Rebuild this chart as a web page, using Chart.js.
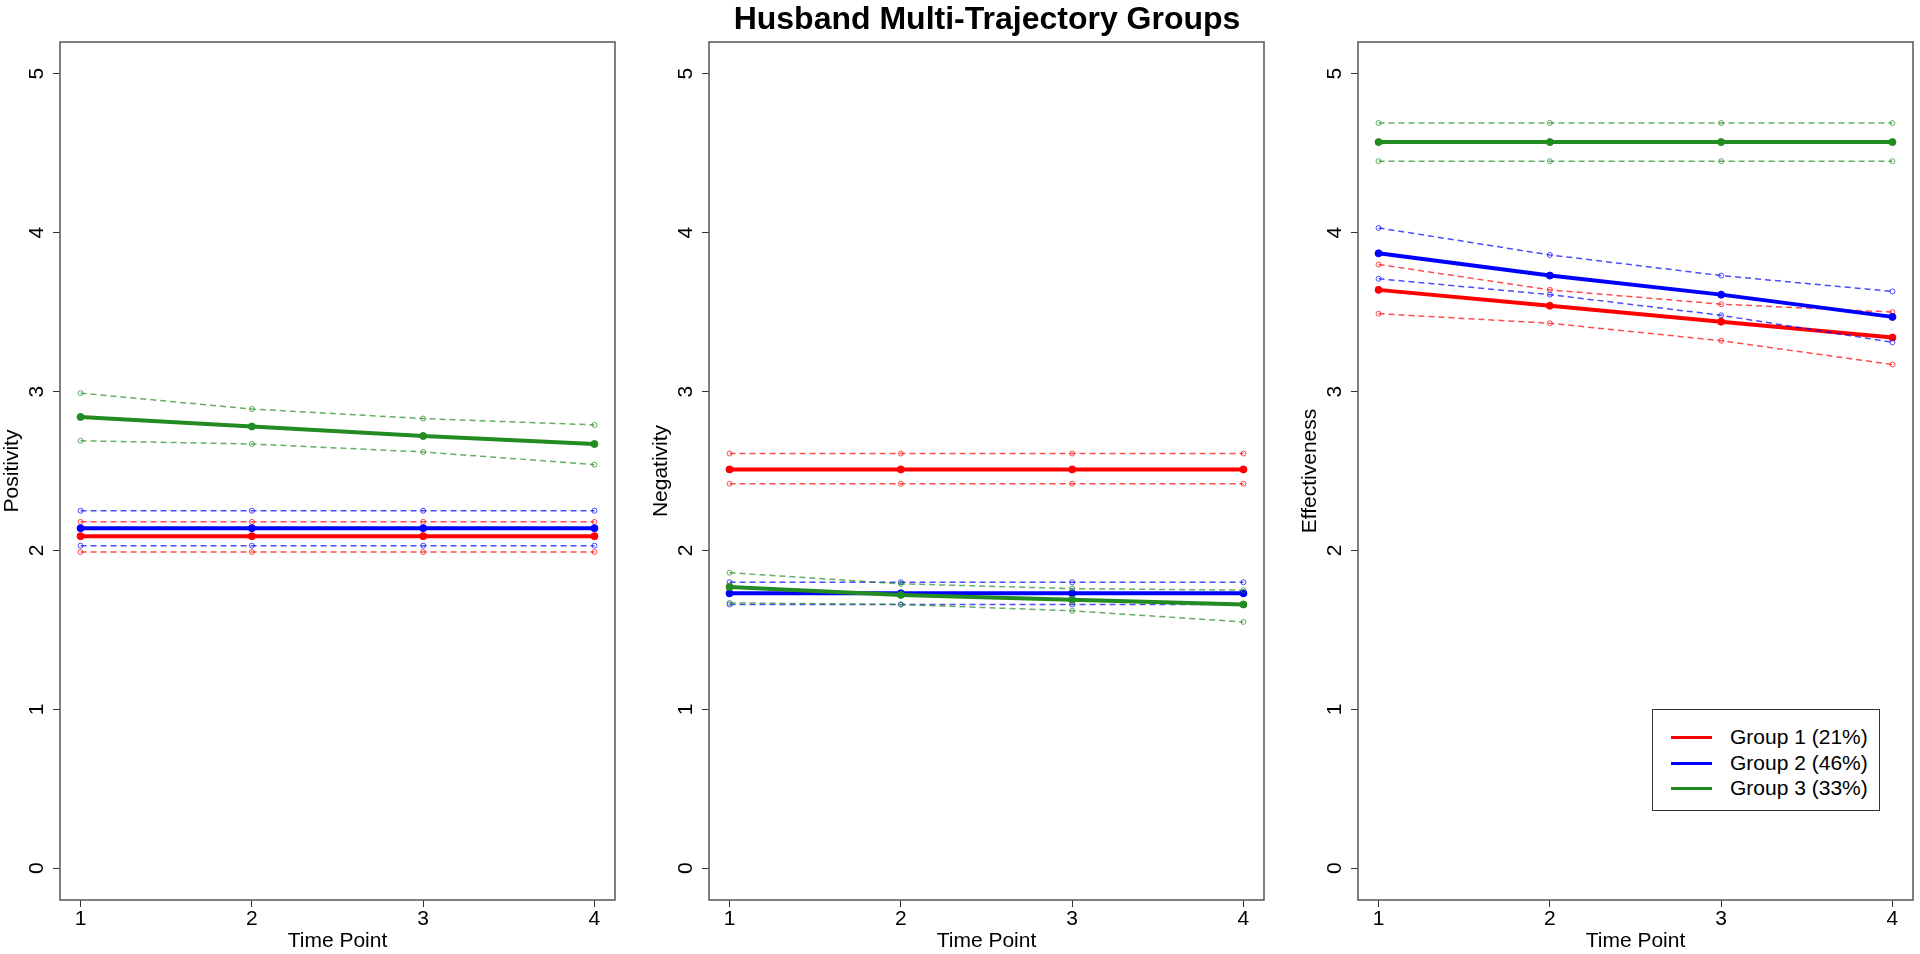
<!DOCTYPE html>
<html>
<head>
<meta charset="utf-8">
<title>Husband Multi-Trajectory Groups</title>
<script src="https://cdn.jsdelivr.net/npm/chart.js@4.4.0/dist/chart.umd.min.js"></script>
<style>
  html, body { margin: 0; padding: 0; background: #fff; }
  body { width: 1920px; height: 954px; position: relative; overflow: hidden; font-family: 'Liberation Sans', Arial, sans-serif; }
  #title { position: absolute; left: 0; width: 1974px; top: 2px; text-align: center; font-size: 32px; font-weight: bold; line-height: 32px; color: #000; z-index: 2; }
  .panel { position: absolute; top: 0; }
  #legend { position: absolute; left: 1652px; top: 709px; width: 226px; height: 100px; border: 1px solid #333; background: #fff; z-index: 2; }
  .row { position: absolute; left: 0; height: 26px; display: flex; align-items: center; font-size: 21px; color: #000; }
  .swatch { width: 41px; height: 3px; margin-left: 18px; margin-right: 18px; }
</style>
</head>
<body>
<div id="title">Husband Multi-Trajectory Groups</div>
<canvas id="posChart" class="panel" width="620" height="954" style="left:0px"></canvas>
<canvas id="negChart" class="panel" width="620" height="954" style="left:649px"></canvas>
<canvas id="effChart" class="panel" width="620" height="954" style="left:1298px"></canvas>
<div id="legend"></div>
<script>
// values
const timePoints = [1, 2, 3, 4];
const yTicks = [0, 1, 2, 3, 4, 5];
const groupNames = ['Group 1 (21%)', 'Group 2 (46%)', 'Group 3 (33%)'];
const groupColors = ['#ff0000', '#0000ff', '#228b22'];
const ciColors = ['rgba(255,0,0,0.7)', 'rgba(0,0,255,0.7)', 'rgba(34,139,34,0.7)'];

// Positivity
const posMean  = [[2.09, 2.09, 2.09, 2.09], [2.14, 2.14, 2.14, 2.14], [2.84, 2.78, 2.72, 2.67]];
const posUpper = [[2.18, 2.18, 2.18, 2.18], [2.25, 2.25, 2.25, 2.25], [2.99, 2.89, 2.83, 2.79]];
const posLower = [[1.99, 1.99, 1.99, 1.99], [2.03, 2.03, 2.03, 2.03], [2.69, 2.67, 2.62, 2.54]];

// Negativity
const negMean  = [[2.51, 2.51, 2.51, 2.51], [1.73, 1.73, 1.73, 1.73], [1.77, 1.72, 1.69, 1.66]];
const negUpper = [[2.61, 2.61, 2.61, 2.61], [1.80, 1.80, 1.80, 1.80], [1.86, 1.79, 1.76, 1.75]];
const negLower = [[2.42, 2.42, 2.42, 2.42], [1.66, 1.66, 1.66, 1.66], [1.67, 1.66, 1.62, 1.55]];

// Effectiveness
const effMean  = [[3.64, 3.54, 3.44, 3.34], [3.87, 3.73, 3.61, 3.47], [4.57, 4.57, 4.57, 4.57]];
const effUpper = [[3.80, 3.64, 3.55, 3.50], [4.03, 3.86, 3.73, 3.63], [4.69, 4.69, 4.69, 4.69]];
const effLower = [[3.49, 3.43, 3.32, 3.17], [3.71, 3.61, 3.48, 3.31], [4.45, 4.45, 4.45, 4.45]];

Chart.defaults.font.family = "'Liberation Sans', Arial, sans-serif";
Chart.defaults.color = '#000';

function el(id) { return document.getElementById(id); }

function points(vals) {
  return timePoints.map((t, i) => ({ x: t, y: vals[i] }));
}

// box around the plot region, like R's box()
const frameBox = {
  id: 'frameBox',
  afterDatasetsDraw(chart) {
    const { ctx, chartArea: a } = chart;
    ctx.save();
    ctx.strokeStyle = '#555';
    ctx.lineWidth = 1.5;
    ctx.strokeRect(a.left, a.top, a.right - a.left, a.bottom - a.top);
    ctx.restore();
  }
};

function buildDatasets(mean, upper, lower) {
  const sets = [];
  groupNames.forEach((name, g) => {
    [upper[g], lower[g]].forEach(ci => {
      sets.push({
        data: points(ci),
        borderColor: ciColors[g],
        borderWidth: 1.5,
        borderDash: [6, 4],
        pointRadius: 2.5,
        pointBorderWidth: 1,
        pointBorderColor: ciColors[g],
        pointBackgroundColor: 'rgba(0,0,0,0)',
        tension: 0
      });
    });
    sets.push({
      label: name,
      data: points(mean[g]),
      borderColor: groupColors[g],
      borderWidth: 4,
      pointRadius: 3.5,
      pointBorderWidth: 1,
      pointBorderColor: groupColors[g],
      pointBackgroundColor: groupColors[g],
      tension: 0
    });
  });
  // chart.js paints the first dataset last, so flip to keep group 3 on top
  return sets.reverse();
}

function makePanel(id, yTitle, mean, upper, lower) {
  const gridOpts = { drawOnChartArea: false, drawTicks: true, tickLength: 7, color: '#333', lineWidth: 1 };
  return new Chart(el(id), {
    type: 'line',
    data: { datasets: buildDatasets(mean, upper, lower) },
    options: {
      responsive: false,
      animation: false,
      events: [],
      layout: { padding: { top: 42, right: 3, left: 0, bottom: 0 } },
      plugins: { legend: { display: false }, tooltip: { enabled: false }, title: { display: false } },
      scales: {
        x: {
          type: 'linear', min: 0.88, max: 4.12,
          afterBuildTicks: s => { s.ticks = timePoints.map(v => ({ value: v })); },
          afterFit: s => { s.height = 54; },
          grid: gridOpts,
          border: { display: false },
          ticks: { font: { size: 21 }, color: '#000', padding: 0, maxRotation: 0 },
          title: { display: true, text: 'Time Point', font: { size: 21 }, color: '#000', padding: 0 }
        },
        y: {
          type: 'linear', min: -0.2, max: 5.2,
          afterBuildTicks: s => { s.ticks = yTicks.map(v => ({ value: v })); },
          afterFit: s => { s.width = 60; },
          grid: gridOpts,
          border: { display: false },
          ticks: { font: { size: 21 }, color: '#000', minRotation: 90, maxRotation: 90, crossAlign: 'center', padding: 10 },
          title: { display: true, text: yTitle, font: { size: 21 }, color: '#000', padding: 0 }
        }
      }
    },
    plugins: [frameBox]
  });
}

function buildLegend() {
  const rowTops = [14, 40, 65];
  el('legend').innerHTML = groupNames.map((name, g) =>
    `<div class="row" style="top:${rowTops[g]}px"><span class="swatch" style="background:${groupColors[g]}"></span><span>${name}</span></div>`
  ).join('');
}

makePanel('posChart', 'Positivity', posMean, posUpper, posLower);
makePanel('negChart', 'Negativity', negMean, negUpper, negLower);
makePanel('effChart', 'Effectiveness', effMean, effUpper, effLower);
buildLegend();
</script>
</body>
</html>
